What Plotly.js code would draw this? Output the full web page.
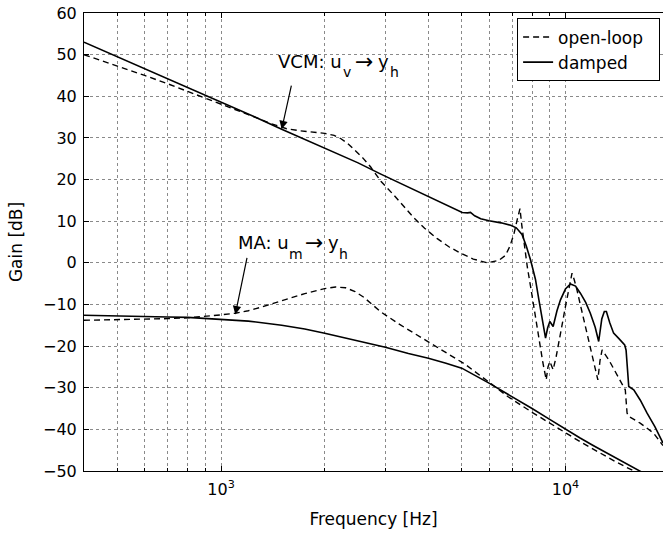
<!DOCTYPE html>
<html>
<head>
<meta charset="utf-8">
<script src="https://cdn.plot.ly/plotly-3.0.1.min.js"></script>
<style>
html,body{margin:0;padding:0;background:#fff;overflow:hidden;}
#chart{width:663px;height:539px;}
</style>
</head>
<body>
<div id="chart"></div>
<script>
// VCM: u_v -> y_h, open-loop (dashed)
var freqVcmOpen = [400,500,600,700,800,1000,1200,1400,1550,1700,1850,2000,2130,2230,2330,2434,2580,2720,2911,3180,3400,3630,3900,4245,4600,4965,5400,5930,6410,6700,6900,7090,7250,7380,7470,7575,7750,7925,8150,8375,8600,8795,8900,9010,9110,9210,9400,9570,9800,10000,10250,10450,10600,10800,11150,11560,12000,12420,12600,12780,13360,13900,14430,14920,15000,15100,15270,16480,18030,19200];
var gainVcmOpen = [50.0,47.3,45.0,43.0,41.2,38.2,35.6,33.4,32.2,31.7,31.4,31.1,30.6,29.8,28.7,27.3,25.2,23.0,19.6,16.2,13.5,10.8,8.3,5.8,3.8,2.3,0.9,0.0,0.6,1.8,4.0,7.0,10.5,13.0,9.0,4.7,-1.0,-5.8,-12.0,-18.5,-24.0,-28.1,-25.0,-23.7,-24.8,-25.7,-22.5,-19.3,-14.5,-10.5,-5.5,-2.5,-4.0,-6.5,-11.5,-16.9,-22.5,-28.1,-23.5,-20.9,-23.3,-25.8,-28.1,-30.5,-33.0,-36.1,-36.9,-38.5,-40.9,-43.9];

// VCM: u_v -> y_h, damped (solid)
var freqVcmDamped = [400,500,600,700,875,1000,1250,1500,1800,2085,2500,2911,3326,4000,4500,5015,5200,5300,5450,5675,6000,6500,6935,7200,7480,7700,7925,8185,8375,8600,8755,8880,9010,9210,9450,9675,10000,10340,10700,11050,11450,11810,12200,12490,12750,12970,13150,13450,13800,14300,14860,15000,15100,15270,15790,16500,17260,18200,19200];
var gainVcmDamped = [53.0,49.5,46.6,44.2,40.8,38.7,35.1,32.1,29.2,27.0,24.0,21.3,19.0,15.9,13.9,12.1,12.0,12.1,11.3,10.6,10.1,9.6,9.0,8.4,6.8,4.0,0.6,-4.0,-8.9,-14.0,-18.1,-15.6,-14.1,-15.3,-11.5,-8.9,-6.3,-5.1,-5.6,-7.3,-9.5,-12.1,-15.5,-18.9,-13.5,-11.7,-11.7,-14.4,-16.9,-18.2,-19.7,-21.0,-24.1,-29.7,-30.5,-33.0,-36.1,-39.4,-43.3];

// MA: u_m -> y_h, open-loop (dashed)
var freqMaOpen = [400,500,600,700,800,900,1000,1100,1200,1300,1500,1750,2000,2150,2300,2450,2600,2750,2900,3300,3900,4500,5100,5900,6800,8000,9000,10000,11000,12500,14000,15800,16100];
var gainMaOpen = [-13.8,-13.7,-13.6,-13.4,-13.2,-12.9,-12.5,-12.1,-11.5,-10.7,-9.2,-7.4,-6.2,-5.8,-6.0,-6.9,-8.3,-10.0,-11.7,-14.8,-18.4,-21.4,-24.3,-28.2,-32.1,-35.9,-38.6,-40.8,-42.9,-45.5,-47.8,-50.0,-50.4];

// MA: u_m -> y_h, damped (solid)
var freqMaDamped = [400,500,600,700,800,1000,1200,1500,1750,2000,2500,3000,3500,4000,4500,5000,6000,7000,8000,9000,10000,11000,12000,13000,14000,15000,16300,16600];
var gainMaDamped = [-12.6,-12.7,-12.8,-13.0,-13.1,-13.5,-14.0,-15.0,-15.9,-16.9,-18.7,-20.3,-21.8,-22.9,-24.1,-25.3,-28.9,-32.1,-35.0,-37.6,-40.0,-42.0,-43.8,-45.4,-46.8,-48.2,-49.8,-50.2];

// axis ticks
var xMajorTicks = [1000, 10000];
var xMajorLabels = ['10<sup>3</sup>', '10<sup>4</sup>'];
var xMinorTicks = [400,500,600,700,800,900,2000,3000,4000,5000,6000,7000,8000,9000];
var xRange = [400, 19200];
var yRange = [-50, 60];

// legend names
var seriesNames = ['open-loop', 'damped'];

// annotation labels: [text, subscript, arrow, text, subscript]
var vcmLabelParts = ['VCM: u', 'v', '→', 'y', 'h'];
var maLabelParts = ['MA: u', 'm', '→', 'y', 'h'];
var vcmLabelPos = [1444, 48.46];   // left edge of label, [Hz, dB]
var maLabelPos = [1105, 4.8];
var vcmArrowTip = [1500, 32.1];
var maArrowTip = [1100, -12.4];

var FONT = 'DejaVu Sans, Verdana, sans-serif';
var dashStyle = '6px,4px';
var PAD = '\u00a0\u00a0';

var traces = [
  {x: freqVcmOpen, y: gainVcmOpen, type: 'scatter', mode: 'lines', name: seriesNames[0] + PAD,
   line: {color: '#000', width: 1.4, dash: dashStyle}, legendgroup: 'ol', showlegend: true},
  {x: freqVcmDamped, y: gainVcmDamped, type: 'scatter', mode: 'lines', name: seriesNames[1] + PAD,
   line: {color: '#000', width: 1.6}, legendgroup: 'd', showlegend: true},
  {x: freqMaOpen, y: gainMaOpen, type: 'scatter', mode: 'lines', name: seriesNames[0],
   line: {color: '#000', width: 1.4, dash: dashStyle}, legendgroup: 'ol', showlegend: false},
  {x: freqMaDamped, y: gainMaDamped, type: 'scatter', mode: 'lines', name: seriesNames[1],
   line: {color: '#000', width: 1.6}, legendgroup: 'd', showlegend: false}
];

function labelPieces(parts, pos, offsets) {
  var fx = Math.log10(pos[0]), fy = pos[1];
  var sizes = [18, 14, 22, 18, 14];
  var dys = [0, -11, 0, 0, -11];
  var out = [];
  for (var i = 0; i < parts.length; i++) {
    out.push({x: fx, y: fy, xref: 'x', yref: 'y', text: parts[i], showarrow: false,
      xanchor: 'left', yanchor: 'middle', xshift: offsets[i], yshift: dys[i],
      font: {family: FONT, size: sizes[i], color: '#000'}});
  }
  return out;
}

var annotations = []
  .concat(labelPieces(vcmLabelParts, vcmLabelPos, [0, 65, 77, 100, 112]))
  .concat(labelPieces(maLabelParts, maLabelPos, [0, 51, 67, 90, 101]))
  .concat([
    {x: Math.log10(vcmArrowTip[0]), y: vcmArrowTip[1], xref: 'x', yref: 'y', text: '',
     showarrow: true, ax: 10, ay: -45, arrowhead: 2, arrowsize: 1.4, arrowwidth: 1.2, arrowcolor: '#000', standoff: 0},
    {x: Math.log10(maArrowTip[0]), y: maArrowTip[1], xref: 'x', yref: 'y', text: '',
     showarrow: true, ax: 12, ay: -58, arrowhead: 2, arrowsize: 1.4, arrowwidth: 1.2, arrowcolor: '#000', standoff: 0}
  ]);

var gridCol = '#8a8a8a';
var layout = {
  width: 663, height: 539,
  margin: {l: 84, r: 0, t: 13, b: 68, pad: 0},
  paper_bgcolor: '#fff', plot_bgcolor: '#fff',
  font: {family: FONT, size: 16, color: '#000'},
  showlegend: true,
  legend: {
    x: 0.995, y: 0.988, xanchor: 'right', yanchor: 'top',
    bgcolor: '#fff', bordercolor: '#000', borderwidth: 1,
    font: {family: FONT, size: 17, color: '#000'},
    itemwidth: 30, tracegroupgap: 0
  },
  xaxis: {
    type: 'log',
    range: [Math.log10(xRange[0]), Math.log10(xRange[1])],
    tickmode: 'array', tickvals: xMajorTicks, ticktext: xMajorLabels,
    ticks: 'inside', ticklen: 5, tickcolor: '#000',
    showline: true, linecolor: '#000', linewidth: 1, mirror: 'allticks',
    showgrid: true, gridcolor: gridCol, griddash: 'dot', gridwidth: 1,
    zeroline: false,
    tickfont: {family: FONT, size: 16, color: '#000'},
    ticklabelstandoff: 4,
    minor: {tickmode: 'array', tickvals: xMinorTicks, ticks: 'inside', ticklen: 3, tickcolor: '#000',
            showgrid: true, gridcolor: gridCol, griddash: 'dot', gridwidth: 1},
    title: {text: 'Frequency [Hz]', font: {family: FONT, size: 17, color: '#000'}, standoff: 14},
    automargin: false
  },
  yaxis: {
    range: yRange, tickmode: 'linear', tick0: -50, dtick: 10,
    ticks: 'inside', ticklen: 5, tickcolor: '#000',
    showline: true, linecolor: '#000', linewidth: 1, mirror: false,
    showgrid: true, gridcolor: gridCol, griddash: 'dot', gridwidth: 1,
    zeroline: false,
    tickfont: {family: FONT, size: 16, color: '#000'},
    ticklabelstandoff: 3,
    title: {text: 'Gain [dB]', font: {family: FONT, size: 17, color: '#000'}, standoff: 16},
    automargin: false
  },
  annotations: annotations
};

Plotly.newPlot('chart', traces, layout, {displayModeBar: false, staticPlot: true});
</script>
</body>
</html>
